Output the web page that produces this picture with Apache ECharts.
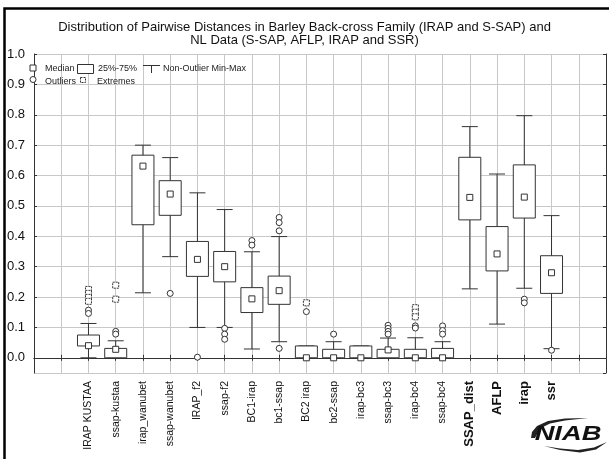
<!DOCTYPE html>
<html>
<head>
<meta charset="utf-8">
<script src="https://cdn.jsdelivr.net/npm/echarts@6/dist/echarts.min.js"></script>
<style>
  html, body { margin: 0; padding: 0; background: #fff; }
  #main { width: 609px; height: 459px; }
</style>
</head>
<body>
<div id="main"></div>
<script>
// box plot summary
var categories = ['IRAP KUSTAA', 'ssap-kustaa', 'irap_wanubet', 'ssap-wanubet', 'IRAP_f2', 'ssap-f2',
  'BC1-irap', 'bc1-ssap', 'BC2 irap', 'bc2-ssap', 'irap-bc3', 'ssap-bc3', 'irap-bc4', 'ssap-bc4',
  'SSAP_dist', 'AFLP', 'irap', 'ssr'];
var boldCats = ['SSAP_dist', 'AFLP', 'irap', 'ssr'];

var mins    = [0.000, 0.000, 0.214, 0.333, 0.100, 0.100, 0.029, 0.053, 0.000, 0.000, 0.000, 0.000, 0.000, 0.000, 0.227, 0.111, 0.229, 0.030];
var q1s     = [0.039, 0.000, 0.438, 0.469, 0.268, 0.250, 0.149, 0.176, 0.000, 0.000, 0.000, 0.000, 0.000, 0.000, 0.454, 0.286, 0.460, 0.212];
var medians = [0.040, 0.028, 0.631, 0.539, 0.324, 0.300, 0.194, 0.221, 0.000, 0.000, 0.000, 0.026, 0.000, 0.000, 0.528, 0.342, 0.529, 0.280];
var q3s     = [0.075, 0.031, 0.667, 0.583, 0.383, 0.350, 0.231, 0.269, 0.039, 0.028, 0.039, 0.028, 0.028, 0.031, 0.660, 0.432, 0.635, 0.336];
var maxs    = [0.113, 0.056, 0.700, 0.659, 0.543, 0.488, 0.349, 0.399, 0.039, 0.053, 0.039, 0.065, 0.066, 0.053, 0.761, 0.605, 0.797, 0.468];

var outliers = [
  [0.157, 0.146], [0.087, 0.078], [], [0.212], [0.002], [0.097, 0.078, 0.061],
  [0.386, 0.371], [0.462, 0.445, 0.418, 0.031], [0.152], [0.078], [], [0.107, 0.097, 0.087, 0.078],
  [0.105, 0.098], [0.105, 0.090, 0.078], [], [], [0.193, 0.181], [0.025]
];
var extremes = [
  [0.225, 0.212, 0.199, 0.186], [0.239, 0.193], [], [], [], [],
  [], [], [0.181], [], [], [],
  [0.165, 0.150, 0.135], [], [], [], [], []
];

var yTicks = [0.0, 0.1, 0.2, 0.3, 0.4, 0.5, 0.6, 0.7, 0.8, 0.9, 1.0];

// two empty slots on each side of the categories
var OFFSET = 2;
var slots = ['', ''].concat(categories, ['', '']);

var ink = '#333';
var font = 'Liberation Sans';

var boxData = categories.map(function (c, i) {
  return [i + OFFSET, mins[i], q1s[i], medians[i], q3s[i], maxs[i]];
});
var medianData = categories.map(function (c, i) { return [i + OFFSET, medians[i]]; });
var outlierData = [];
var extremeData = [];
outliers.forEach(function (arr, i) { arr.forEach(function (v) { outlierData.push([i + OFFSET, v]); }); });
extremes.forEach(function (arr, i) { arr.forEach(function (v) { extremeData.push([i + OFFSET, v]); }); });

function renderBox(params, api) {
  var x = api.value(0);
  var lo = api.coord([x, api.value(1)]);
  var q1 = api.coord([x, api.value(2)]);
  var q3 = api.coord([x, api.value(4)]);
  var hi = api.coord([x, api.value(5)]);
  var bw = 22, cw = 16;
  var st = { stroke: ink, lineWidth: 1, fill: null };
  return {
    type: 'group',
    children: [
      { type: 'line', shape: { x1: lo[0], y1: lo[1], x2: hi[0], y2: hi[1] }, style: st },
      { type: 'line', shape: { x1: lo[0] - cw / 2, y1: lo[1], x2: lo[0] + cw / 2, y2: lo[1] }, style: st },
      { type: 'line', shape: { x1: hi[0] - cw / 2, y1: hi[1], x2: hi[0] + cw / 2, y2: hi[1] }, style: st },
      { type: 'rect', shape: { x: q1[0] - bw / 2, y: q3[1], width: bw, height: q1[1] - q3[1] },
        style: { fill: '#fff', stroke: ink, lineWidth: 1 } }
    ]
  };
}

var chart = echarts.init(document.getElementById('main'), null, { renderer: 'canvas' });

var legendTxt = { fill: '#222', font: '9px ' + font, textVerticalAlign: 'middle' };
function ltext(x, y, s) {
  return { type: 'text', x: x, y: y, z: 20, style: Object.assign({ text: s }, legendTxt) };
}

var option = {
  backgroundColor: '#fff',
  animation: false,
  title: {
    text: 'Distribution of Pairwise Distances in Barley Back-cross Family (IRAP and S-SAP) and\nNL Data (S-SAP, AFLP, IRAP and SSR)',
    left: 'center',
    top: 16,
    textStyle: { fontFamily: font, fontSize: 13, fontWeight: 'normal', color: '#111', lineHeight: 13 }
  },
  grid: { left: 34, right: 3, top: 54, bottom: 86 },
  xAxis: [{
    type: 'category',
    data: slots,
    boundaryGap: false,
    axisLine: { lineStyle: { color: ink, width: 1 } },
    axisTick: { inside: true, length: 3, interval: 0, lineStyle: { color: ink } },
    splitLine: { show: true, interval: 0, lineStyle: { color: '#c8c8c8', width: 1 } },
    axisLabel: {
      interval: 0, rotate: 90, margin: 8, color: '#111',
      formatter: function (v) {
        if (!v) return '';
        return boldCats.indexOf(v) >= 0 ? '{b|' + v + '}' : '{n|' + v + '}';
      },
      rich: {
        n: { fontFamily: font, fontSize: 10.5, color: '#111' },
        b: { fontFamily: font, fontSize: 13, fontWeight: 'bold', color: '#111' }
      }
    }
  }, {
    type: 'category',
    data: slots,
    boundaryGap: false,
    position: 'top',
    axisLine: { lineStyle: { color: ink } },
    axisTick: { inside: true, length: 3, interval: 0, lineStyle: { color: ink } },
    axisLabel: { show: false }
  }],
  yAxis: [{
    type: 'value',
    min: -0.05,
    max: 1.0,
    splitNumber: 10,
    minInterval: 0.1,
    maxInterval: 0.1,
    axisLine: { show: true, lineStyle: { color: ink } },
    axisTick: { show: true, inside: true, length: 3, lineStyle: { color: ink } },
    splitLine: { show: true, lineStyle: { color: '#c8c8c8', width: 1 } },
    axisLabel: {
      showMinLabel: false, margin: 9, color: '#111', fontFamily: font, fontSize: 13,
      formatter: function (v) { return yTicks.indexOf(Math.round(v * 10) / 10) >= 0 && v > -0.01 ? v.toFixed(1) : ''; }
    }
  }, {
    type: 'value',
    min: -0.05,
    max: 1.0,
    splitNumber: 10,
    minInterval: 0.1,
    maxInterval: 0.1,
    position: 'right',
    axisLine: { show: true, lineStyle: { color: ink } },
    axisTick: { show: true, inside: true, length: 3, lineStyle: { color: ink } },
    splitLine: { show: false },
    axisLabel: { show: false }
  }],
  series: [{
    type: 'custom',
    name: 'box',
    renderItem: renderBox,
    encode: { x: 0, y: [1, 2, 3, 4, 5] },
    data: boxData,
    z: 2
  }, {
    type: 'scatter',
    name: 'Median',
    data: medianData,
    symbol: 'rect',
    symbolSize: 6,
    itemStyle: { color: '#fff', borderColor: ink, borderWidth: 1, opacity: 1 },
    z: 4
  }, {
    type: 'scatter',
    name: 'Outliers',
    data: outlierData,
    symbol: 'circle',
    symbolSize: 6,
    itemStyle: { color: '#fff', borderColor: ink, borderWidth: 1, opacity: 1 },
    z: 3
  }, {
    type: 'scatter',
    name: 'Extremes',
    data: extremeData,
    symbol: 'rect',
    symbolSize: [6, 6],
    itemStyle: { color: '#fff', borderColor: ink, borderWidth: 1, borderType: [2, 1], opacity: 1 },
    z: 3
  }],
  graphic: [
    // outer frame
    { type: 'rect', shape: { x: 4.5, y: 8.5, width: 700, height: 600 }, style: { fill: null, stroke: '#000', lineWidth: 2.5 }, z: 30 },
    // legend row 1
    { type: 'rect', shape: { x: 30, y: 65, width: 6, height: 6 }, style: { fill: '#fff', stroke: ink, lineWidth: 1 }, z: 20 },
    ltext(45, 69, 'Median'),
    { type: 'rect', shape: { x: 77.5, y: 64.5, width: 16, height: 9 }, style: { fill: '#fff', stroke: ink, lineWidth: 1 }, z: 20 },
    ltext(98, 69, '25%-75%'),
    { type: 'polyline', shape: { points: [[143, 65.5], [160, 65.5]] }, style: { stroke: ink, lineWidth: 1 }, z: 20 },
    { type: 'polyline', shape: { points: [[151.5, 65.5], [151.5, 73]] }, style: { stroke: ink, lineWidth: 1 }, z: 20 },
    ltext(163, 69, 'Non-Outlier Min-Max'),
    // legend row 2
    { type: 'circle', shape: { cx: 33, cy: 79.5, r: 3 }, style: { fill: '#fff', stroke: ink, lineWidth: 1 }, z: 20 },
    ltext(45, 82, 'Outliers'),
    { type: 'rect', shape: { x: 80.5, y: 77.5, width: 5, height: 5 }, style: { fill: '#fff', stroke: ink, lineWidth: 1, lineDash: [2, 1] }, z: 20 },
    ltext(97, 82, 'Extremes'),
    // NIAB logo
    {
      type: 'polygon', z: 20,
      shape: { points: [[531, 438], [532, 432], [537, 426], [548, 421], [565, 418.5], [588, 418],
        [565, 420.5], [550, 423.5], [540, 428.5], [535, 438]] },
      style: { fill: '#222' }
    },
    {
      type: 'polygon', z: 20,
      shape: { points: [[544, 446], [560, 450], [580, 452.5], [596, 449.5], [607, 442],
        [594, 447.5], [578, 450], [560, 448.5]] },
      style: { fill: '#222' }
    },
    {
      type: 'text', z: 20, x: 568, y: 434, scaleX: 1.3,
      style: { text: 'NIAB', font: 'italic bold 21px ' + font, fill: '#111', textAlign: 'center', textVerticalAlign: 'middle' }
    }
  ]
};

chart.setOption(option);
</script>
</body>
</html>
